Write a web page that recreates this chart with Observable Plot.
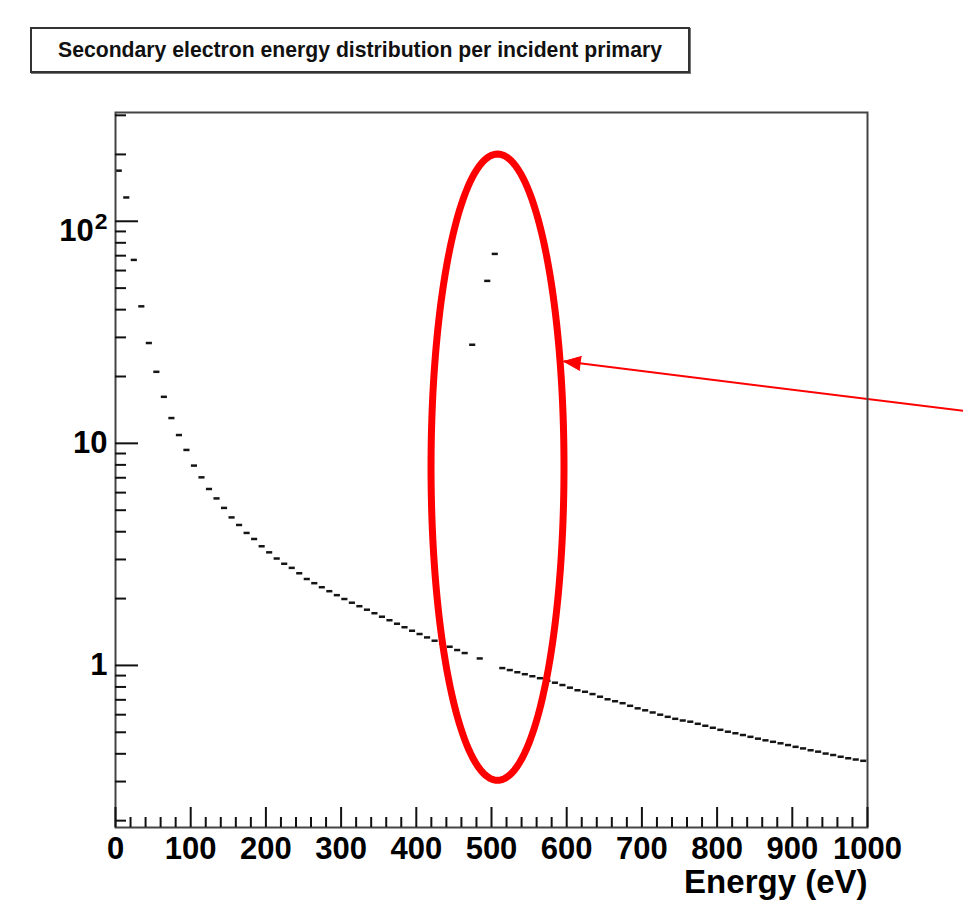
<!DOCTYPE html>
<html>
<head>
<meta charset="utf-8">
<script src="https://cdn.jsdelivr.net/npm/d3@7"></script>
<script src="https://cdn.jsdelivr.net/npm/@observablehq/plot@0.6"></script>
<style>
  body { margin: 0; background: #fff; }
  #wrap { position: relative; width: 963px; height: 922px; }
  #wrap svg { position: absolute; left: 0; top: 0; }
  #title {
    position: absolute; left: 30px; top: 27px; width: 656px; height: 42px; z-index: 2;
    border: 2px solid #333; box-shadow: 1px 1px 0 #777; background: #fff; color: #111;
    font: bold 21.2px "Liberation Sans", Arial, Helvetica, sans-serif;
    display: flex; align-items: center; justify-content: center;
  }
</style>
</head>
<body>
<div id="wrap"></div>
<script>
// ---------------- data ----------------
const titleText = "Secondary electron energy distribution per incident primary";
const xLabel = "Energy (eV)";

const binWidth = 10; // eV
const binLowEdges = d3.range(0, 1000, binWidth); // 100 bins, 0..1000 eV
const counts = [
  169, 128, 67, 41.4, 28.3, 21.0, 16.2, 13.0, 10.9, 9.34,
  7.94, 7.03, 6.23, 5.65, 5.12, 4.64, 4.29, 3.95, 3.71, 3.44,
  3.23, 3.03, 2.87, 2.75, 2.60, 2.45, 2.346, 2.25, 2.159, 2.072,
  1.991, 1.916, 1.848, 1.782, 1.718, 1.657, 1.598, 1.541, 1.486, 1.433,
  1.385, 1.337, 1.292, 1.252, 1.214, 1.173, 1.137, 27.8, 1.075, 53.9,
  71.3, 0.973, 0.953, 0.932, 0.913, 0.894, 0.876, 0.853, 0.836, 0.816,
  0.794, 0.773, 0.761, 0.743, 0.723, 0.704, 0.690, 0.676, 0.658, 0.641,
  0.628, 0.614, 0.600, 0.587, 0.575, 0.565, 0.558, 0.546, 0.535, 0.524,
  0.513, 0.503, 0.495, 0.486, 0.477, 0.468, 0.460, 0.453, 0.446, 0.438,
  0.430, 0.423, 0.415, 0.409, 0.401, 0.395, 0.388, 0.382, 0.377, 0.372
];

const xDomain = [0, 1000];
const yDomain = [0.1863, 308.9];
const xMajorTicks = d3.range(0, 1001, 100);
const xMinorTicks = d3.range(0, 1001, 20).filter(v => v % 100 !== 0);
const yMajorTicks = [1, 10, 100];
const yMajorLabels = ["1", "10", "10\u00b2"];
const yMinorTicks = [0.2, 0.3, 0.4, 0.5, 0.6, 0.7, 0.8, 0.9,
                     2, 3, 4, 5, 6, 7, 8, 9,
                     20, 30, 40, 50, 60, 70, 80, 90,
                     200, 300];

// annotation: red ellipse around the 500 eV peak, and arrow pointing to it
const ellipseCenter = {energy: 508, value: 7.81};
const ellipseRadiusEnergy = 88.4;   // eV
const ellipseRadiusDecades = 1.41;  // decades on the log axis
const arrowFrom = {energy: 1128, value: 14.0};
const arrowTo = {energy: 596, value: 23.4};

// ---------------- build ----------------
const W = 963, H = 922, mL = 115, mR = 96, mT = 112, mB = 95;
const font = "'Liberation Sans', Arial, Helvetica, sans-serif";

const bins = binLowEdges.map((lo, i) => ({lo, hi: lo + binWidth, v: counts[i]}));

const ellipse = d3.range(0, 241).map(k => {
  const t = (k / 240) * 2 * Math.PI;
  return {
    x: ellipseCenter.energy + ellipseRadiusEnergy * Math.cos(t),
    y: ellipseCenter.value * Math.pow(10, ellipseRadiusDecades * Math.sin(t))
  };
});

const xs = Plot.scale({x: {domain: xDomain, range: [mL, W - mR]}});
const ys = Plot.scale({y: {type: "log", domain: yDomain, range: [H - mB, mT]}});
const dxp = xs.apply(arrowTo.energy) - xs.apply(arrowFrom.energy);
const dyp = ys.apply(arrowTo.value) - ys.apply(arrowFrom.value);
const headAngle = Math.atan2(dxp, -dyp) * 180 / Math.PI;

const chart = Plot.plot({
  width: W, height: H,
  marginLeft: mL, marginRight: mR, marginTop: mT, marginBottom: mB,
  style: {fontFamily: font, background: "white", overflow: "visible", color: "#000"},
  x: {domain: xDomain},
  y: {type: "log", domain: yDomain},
  marks: [
    Plot.ruleY(bins, {x1: "lo", x2: "hi", y: "v", insetLeft: 0.7, insetRight: 0.7,
                      stroke: "#151515", strokeWidth: 2.5}),
    Plot.line(ellipse, {x: "x", y: "y", stroke: "#ff0000", strokeWidth: 7, strokeLinejoin: "round"}),
    Plot.link([0], {x1: () => arrowFrom.energy, y1: () => arrowFrom.value,
                    x2: () => arrowTo.energy, y2: () => arrowTo.value,
                    stroke: "#ff0000", strokeWidth: 2}),
    Plot.vector([0], {x: () => arrowTo.energy, y: () => arrowTo.value, rotate: headAngle,
                      length: 17, r: 7, shape: "spike", anchor: "end",
                      fill: "#ff0000", stroke: "#ff0000", strokeWidth: 1, fillOpacity: 1}),
    Plot.frame({stroke: "#444", strokeWidth: 2}),
    // x ticks (inward)
    Plot.axisX(xMajorTicks, {anchor: "bottom", tickSize: -20, fill: "none", label: null,
                             stroke: "#111", strokeWidth: 2}),
    Plot.axisX(xMinorTicks, {anchor: "bottom", tickSize: -10, fill: "none", label: null,
                             stroke: "#111", strokeWidth: 2}),
    Plot.axisX(xMajorTicks, {anchor: "bottom", tickSize: 0, tickPadding: 9, label: null,
                             fontSize: 31, fontWeight: "bold", fill: "#000",
                             tickFormat: d => String(d)}),
    // y ticks (inward)
    Plot.axisY(yMajorTicks, {anchor: "left", tickSize: -23, fill: "none", label: null,
                             stroke: "#111", strokeWidth: 2}),
    Plot.axisY(yMinorTicks, {anchor: "left", tickSize: -11, fill: "none", label: null,
                             stroke: "#111", strokeWidth: 2}),
    Plot.axisY(yMajorTicks, {anchor: "left", tickSize: 0, tickPadding: 8, label: null,
                             fontSize: 31, fontWeight: "bold", fill: "#000",
                             tickFormat: d => yMajorLabels[yMajorTicks.indexOf(d)]}),
    Plot.text([xLabel], {text: d => d, frameAnchor: "bottom-right", dy: 65,
                         textAnchor: "end", lineAnchor: "bottom",
                         fontSize: 33, fontWeight: "bold", fill: "#000"})
  ]
});

// render the "10²" label with a real superscript, as in the original
d3.select(chart).selectAll("text").each(function() {
  if (this.textContent === "10\u00b2") {
    const t = d3.select(this);
    t.text("10").attr("dy", "0.3em");
    t.append("tspan").attr("dx", "1").attr("dy", "-0.5em").attr("font-size", "0.74em").text("2");
  }
});

const wrap = document.getElementById("wrap");
wrap.appendChild(chart);
const title = document.createElement("div");
title.id = "title";
title.textContent = titleText;
wrap.appendChild(title);
</script>
</body>
</html>
